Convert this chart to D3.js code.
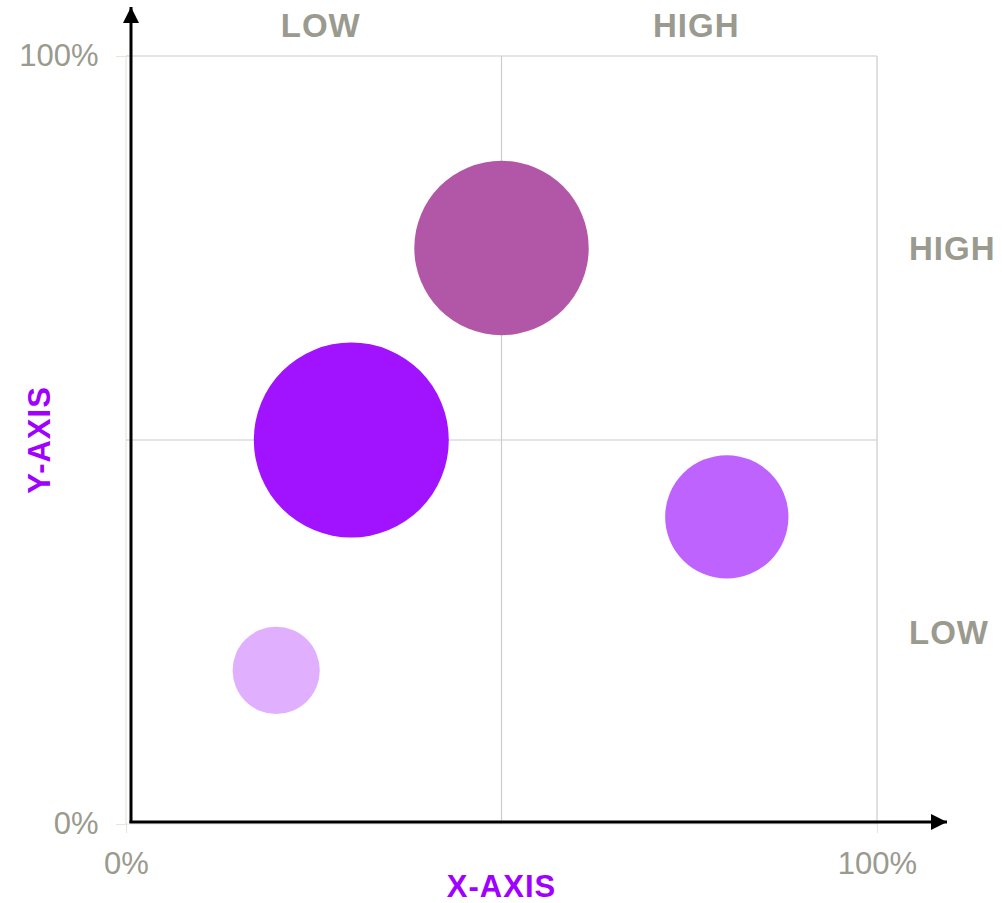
<!DOCTYPE html>
<html>
<head>
<meta charset="utf-8">
<script src="https://cdn.jsdelivr.net/npm/d3@7"></script>
<style>
  html, body { margin: 0; padding: 0; background: #fff; }
  svg { display: block; }
</style>
</head>
<body>
<svg id="chart" width="1002" height="903"></svg>
<script>
// Bubble data: position in percent, size value drives the area
const names   = ["A", "B", "C", "D"];
const xValues = [50, 30, 80, 20];
const yValues = [75, 50, 40, 20];
const sizes   = [80, 100, 40, 20];
const colors  = ["#b256a8", "#a112ff", "#bf63ff", "#e0b0ff"];

const tickValues = [0, 100];
const gridValues = [0, 50, 100];
const topLabels   = [{ text: "LOW", at: 25 }, { text: "HIGH", at: 75 }];
const rightLabels = [{ text: "HIGH", at: 75 }, { text: "LOW", at: 25 }];

const svg = d3.select("#chart");
const grey = "#9a9a8f";
const purple = "#a000ff";

const x = d3.scaleLinear().domain([0, 100]).range([126, 877]);
const y = d3.scaleLinear().domain([0, 100]).range([824, 56]);
const r = d3.scaleSqrt().domain([0, 100]).range([0, 97.5]);

// gridlines
svg.append("g").selectAll("line").data(gridValues).join("line")
  .attr("x1", d => x(d)).attr("x2", d => x(d))
  .attr("y1", y(100)).attr("y2", y(0))
  .attr("stroke", d => d === 0 ? "#e6e6e0" : "#cccccc").attr("stroke-width", 1.2);
svg.append("g").selectAll("line").data(gridValues).join("line")
  .attr("x1", x(0)).attr("x2", x(100))
  .attr("y1", d => y(d)).attr("y2", d => y(d))
  .attr("stroke", d => d === 0 ? "#e6e6e0" : "#cccccc").attr("stroke-width", 1.2);

// tick axes
const xAxis = svg.append("g").attr("transform", `translate(0,${y(0)})`)
  .call(d3.axisBottom(x).tickValues(tickValues).tickFormat(d => d + "%").tickSize(9).tickPadding(19));
const yAxis = svg.append("g").attr("transform", `translate(${x(0)},0)`)
  .call(d3.axisLeft(y).tickValues(tickValues).tickFormat(d => d + "%").tickSize(10).tickPadding(17.5));
[xAxis, yAxis].forEach(g => {
  g.select(".domain").remove();
  g.selectAll(".tick line").attr("stroke", "#e6e6e0").attr("stroke-width", 1.2);
  g.selectAll(".tick text").attr("fill", grey)
    .style("font-family", "Liberation Sans, Arial, sans-serif").style("font-size", "31px");
});

// bubbles
const data = names.map((n, i) => ({ name: n, x: xValues[i], y: yValues[i], size: sizes[i], color: colors[i] }));
svg.append("g").selectAll("circle").data(data).join("circle")
  .attr("cx", d => x(d.x)).attr("cy", d => y(d.y)).attr("r", d => r(d.size))
  .attr("fill", d => d.color);

// arrowed axes
const defs = svg.append("defs");
defs.append("marker").attr("id", "arrow").attr("viewBox", "0 0 16 16")
  .attr("refX", 16).attr("refY", 8).attr("markerWidth", 16).attr("markerHeight", 16)
  .attr("markerUnits", "userSpaceOnUse").attr("orient", "auto")
  .append("path").attr("d", "M0,0 L16,8 L0,16 Z").attr("fill", "#000");

svg.append("line").attr("x1", 131).attr("y1", 823).attr("x2", 131).attr("y2", 7)
  .attr("stroke", "#000").attr("stroke-width", 3).attr("marker-end", "url(#arrow)");
svg.append("line").attr("x1", 129.5).attr("y1", 822).attr("x2", 947).attr("y2", 822)
  .attr("stroke", "#000").attr("stroke-width", 3).attr("marker-end", "url(#arrow)");

// quadrant labels
const boldFont = "Liberation Sans, Arial, sans-serif";
svg.append("g").selectAll("text").data(topLabels).join("text")
  .attr("x", d => x(d.at) + 7).attr("y", 36.5)
  .attr("text-anchor", "middle").attr("fill", grey)
  .style("font-family", boldFont).style("font-weight", "bold").style("font-size", "33px")
  .style("letter-spacing", "1px")
  .text(d => d.text);
svg.append("g").selectAll("text").data(rightLabels).join("text")
  .attr("x", x(100) + 32).attr("y", d => y(d.at) + 12)
  .attr("text-anchor", "start").attr("fill", grey)
  .style("font-family", boldFont).style("font-weight", "bold").style("font-size", "33px")
  .style("letter-spacing", "1px")
  .text(d => d.text);

// axis titles
svg.append("text").attr("x", x(50)).attr("y", 897)
  .attr("text-anchor", "middle").attr("fill", purple)
  .style("font-family", boldFont).style("font-weight", "bold").style("font-size", "31px")
  .style("letter-spacing", "1px")
  .text("X-AXIS");
svg.append("text").attr("transform", `translate(50,${y(50)}) rotate(-90)`)
  .attr("text-anchor", "middle").attr("fill", purple)
  .style("font-family", boldFont).style("font-weight", "bold").style("font-size", "31px")
  .style("letter-spacing", "1px")
  .text("Y-AXIS");
</script>
</body>
</html>
